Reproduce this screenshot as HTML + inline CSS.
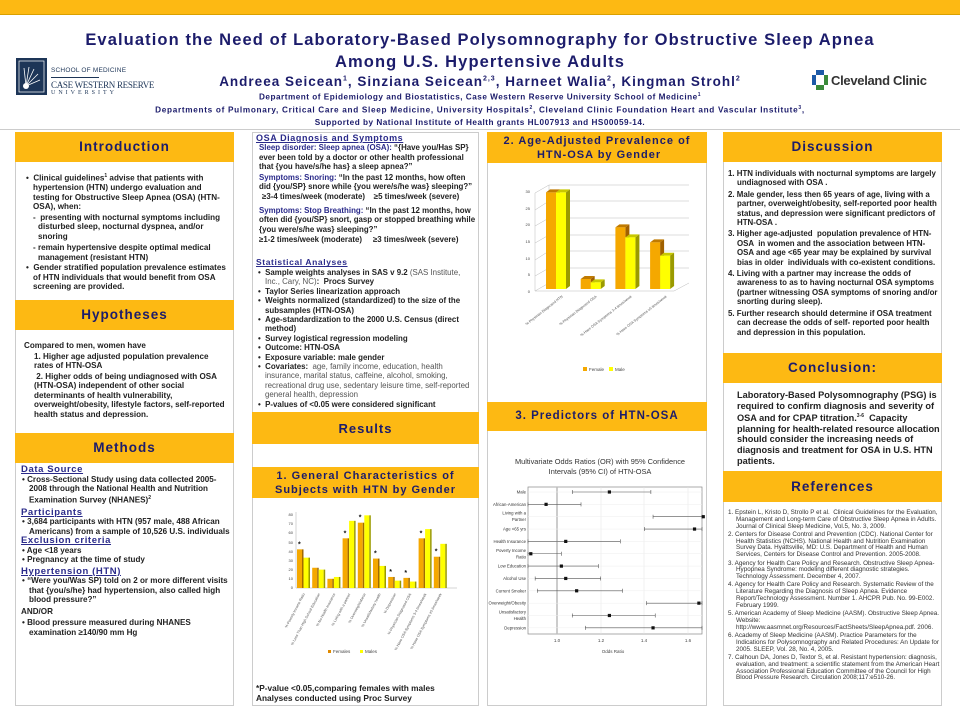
<!DOCTYPE html>
<html><head><meta charset="utf-8"><style>
*{margin:0;padding:0;box-sizing:border-box}
body{width:960px;height:720px;position:relative;background:#fff;font-family:"Liberation Sans",Arial,sans-serif;overflow:hidden;color:#222}
.abs{position:absolute}
.bar{background:#FDB913}
.hd{position:absolute;background:#FDB913;color:#1c1c6b;font-weight:bold;text-align:center;letter-spacing:1px}
.box{position:absolute;border:1px solid #ccc;background:#fff}
.t{position:absolute;font-size:8.1px;font-weight:bold;line-height:9.5px;color:#222}
.t p{margin:0}
.sh{color:#2a2a8a;text-decoration:underline;font-weight:bold;font-size:9.5px;letter-spacing:.6px}
.bl{padding-left:9px;text-indent:-7px}
.nv{color:#2a2a8a}
.ctr{text-align:center;color:#1c1c6b;font-weight:bold;position:absolute;left:0;width:960px}
</style></head><body>
<div class="abs bar" style="left:0;top:0;width:960px;height:15px;border-bottom:1px solid #d9a000"></div>
<div class="ctr" style="top:29px;font-size:16.5px;letter-spacing:1.1px;line-height:22px">Evaluation the Need of Laboratory-Based Polysomnography for Obstructive Sleep Apnea<br>Among U.S. Hypertensive Adults</div>
<div class="ctr" style="top:74px;font-size:13.5px;letter-spacing:1px">Andreea Seicean<sup style="font-size:7px">1</sup>, Sinziana Seicean<sup style="font-size:7px">2,3</sup>, Harneet Walia<sup style="font-size:7px">2</sup>, Kingman Strohl<sup style="font-size:7px">2</sup></div>
<div class="ctr" style="top:92px;font-size:8.2px;letter-spacing:.5px">Department of Epidemiology and Biostatistics, Case Western Reserve University School of Medicine<sup style="font-size:5px">1</sup></div>
<div class="ctr" style="top:105px;font-size:8.2px;letter-spacing:.7px">Departments of Pulmonary, Critical Care and Sleep Medicine, University Hospitals<sup style="font-size:5px">2</sup>, Cleveland Clinic Foundation Heart and Vascular Institute<sup style="font-size:5px">3</sup>,</div>
<div class="ctr" style="top:118px;font-size:8.2px;letter-spacing:.5px">Supported by National Institute of Health grants HL007913 and HS00059-14.</div>
<div class="abs" style="left:0;top:129px;width:960px;height:1px;background:#ccc"></div>
<!-- CWRU logo -->
<div class="abs" style="left:16px;top:58px;width:31px;height:37px;background:#1d3557"><svg width="31" height="37"><rect x="3" y="3" width="25" height="31" fill="none" stroke="#fff" stroke-width=".7"/><g stroke="#fff" stroke-width=".8"><line x1="10" y1="28" x2="8" y2="10"/><line x1="10" y1="28" x2="13" y2="9"/><line x1="10" y1="28" x2="18" y2="11"/><line x1="10" y1="28" x2="22" y2="16"/><line x1="10" y1="28" x2="24" y2="22"/></g><circle cx="10" cy="28" r="3" fill="#fff"/></svg></div>
<div class="abs" style="left:51px;top:67px;font-size:6.5px;color:#1d3557;letter-spacing:.2px">SCHOOL OF MEDICINE</div>
<div class="abs" style="left:51px;top:77px;width:48px;height:1px;background:#1d3557"></div>
<div class="abs" style="left:51px;top:80px;font-family:'Liberation Serif',serif;font-size:9px;color:#1d3557;letter-spacing:-.3px">CASE WESTERN RESERVE</div>
<div class="abs" style="left:51px;top:90px;font-family:'Liberation Serif',serif;font-size:6px;color:#1d3557;letter-spacing:3px">UNIVERSITY</div>
<!-- Cleveland Clinic -->
<div class="abs" style="left:812px;top:70px"><svg width="16" height="20"><rect x="4" y="0" width="8" height="5" fill="#1d5aa8"/><rect x="0" y="5" width="4" height="10" fill="#1d5aa8"/><rect x="12" y="5" width="4" height="10" fill="#3a8a3a"/><rect x="4" y="15" width="8" height="5" fill="#3a8a3a"/></svg></div>
<div class="abs" style="left:831px;top:73px;font-size:13px;font-weight:bold;color:#333;letter-spacing:-.3px">Cleveland Clinic</div>

<!-- Column 1 -->
<div class="box" style="left:15px;top:132px;width:219px;height:574px"></div>
<div class="hd" style="left:15px;top:132px;width:219px;height:30px;font-size:13.5px;line-height:30px">Introduction</div>
<div class="t" style="left:24px;top:172px;width:206px">
<p class="bl">•&nbsp;&nbsp;Clinical guidelines<sup style="font-size:5px">1</sup> advise that patients with hypertension (HTN) undergo evaluation and testing for Obstructive Sleep Apnea (OSA) (HTN-OSA), when:</p>
<p style="padding-left:14px;text-indent:-5px;margin-top:1px">- &nbsp;presenting with nocturnal symptoms including disturbed sleep, nocturnal dyspnea, and/or snoring</p>
<p style="padding-left:14px;text-indent:-5px;margin-top:2px">- remain hypertensive despite optimal medical management (resistant HTN)</p>
<p class="bl" style="margin-top:1px">• &nbsp;Gender stratified population prevalence estimates of HTN individuals that would benefit from OSA screening are provided.</p>
</div>
<div class="hd" style="left:15px;top:300px;width:219px;height:30px;font-size:13.5px;line-height:30px">Hypotheses</div>
<div class="t" style="left:24px;top:341px;width:206px">
<p>Compared to men, women have</p>
<p style="padding-left:10px;margin-top:1px">1. Higher age adjusted population prevalence rates of HTN-OSA</p>
<p style="padding-left:10px;margin-top:1px">&nbsp;2. Higher odds of being undiagnosed with OSA (HTN-OSA) independent of other social determinants of health vulnerability, overweight/obesity, lifestyle factors, self-reported health status and depression.</p>
</div>
<div class="hd" style="left:15px;top:433px;width:219px;height:30px;font-size:13.5px;line-height:30px">Methods</div>
<div class="t" style="left:21px;top:465px;width:211px">
<div class="sh">Data Source</div>
<p class="bl" style="padding-left:8px">• Cross-Sectional Study using data collected 2005-2008 through the National Health and Nutrition Examination Survey (NHANES)<sup style="font-size:5px">2</sup></p>
<div class="sh" style="margin-top:3px">Participants</div>
<p class="bl" style="padding-left:8px">• 3,684 participants with HTN (957 male, 488 African Americans) from a sample of 10,526 U.S. individuals</p>
<div class="sh">Exclusion criteria</div>
<p class="bl" style="padding-left:8px">• Age &lt;18 years</p>
<p class="bl" style="padding-left:8px">• Pregnancy at the time of study</p>
<div class="sh" style="margin-top:2px">Hypertension (HTN)</div>
<p class="bl" style="padding-left:8px">• “Were you/Was SP) told on 2 or more different visits that {you/s/he} had hypertension, also called high blood pressure?”</p>
<p style="margin-top:2px">AND/OR</p>
<p class="bl" style="padding-left:8px;margin-top:2px">• Blood pressure measured during NHANES examination ≥140/90 mm Hg</p>
</div>

<!-- Column 2 -->
<div class="box" style="left:252px;top:132px;width:227px;height:574px"></div>
<div class="t" style="left:256px;top:134px;width:220px;line-height:9.4px;font-size:7.9px">
<div class="sh" style="font-size:9px">OSA Diagnosis and Symptoms</div>
<p style="padding-left:3px"><span class="nv">Sleep disorder: Sleep apnea (OSA):</span> “{Have you/Has SP} ever been told by a doctor or other health professional that {you have/s/he has} a sleep apnea?”</p>
<p style="padding-left:3px;margin-top:1px"><span class="nv">Symptoms: Snoring:</span> “In the past 12 months, how often did {you/SP} snore while {you were/s/he was} sleeping?”</p>
<p style="padding-left:6px;margin-top:1px">≥3-4 times/week (moderate) &nbsp;&nbsp;&nbsp;≥5 times/week (severe)</p>
<p style="padding-left:3px;margin-top:4px"><span class="nv">Symptoms: Stop Breathing:</span> “In the past 12 months, how often did {you/SP} snort, gasp or stopped breathing while {you were/s/he was} sleeping?”</p>
<p style="padding-left:3px;margin-top:1px">≥1-2 times/week (moderate) &nbsp;&nbsp;&nbsp;&nbsp;≥3 times/week (severe)</p>
<div class="sh" style="font-size:8.5px;margin-top:14px">Statistical Analyses</div>
<p class="bl">• &nbsp;Sample weights analyses in SAS v 9.2 <span style="font-weight:normal;color:#555">(SAS Institute, Inc., Cary, NC)</span>: &nbsp;Procs Survey</p>
<p class="bl">• &nbsp;Taylor Series linearization approach</p>
<p class="bl">• &nbsp;Weights normalized (standardized) to the size of the subsamples (HTN-OSA)</p>
<p class="bl">• &nbsp;Age-standardization to the 2000 U.S. Census (direct method)</p>
<p class="bl">• &nbsp;Survey logistical regression modeling</p>
<p class="bl">• &nbsp;Outcome: HTN-OSA</p>
<p class="bl">• &nbsp;Exposure variable: male gender</p>
<p class="bl">• &nbsp;Covariates: <span style="font-weight:normal;color:#555">&nbsp;age, family income, education, health insurance, marital status, caffeine, alcohol, smoking, recreational drug use, sedentary leisure time, self-reported general health, depression</span></p>
<p class="bl">• &nbsp;P-values of &lt;0.05 were considered significant</p>
</div>
<div class="abs bar" style="left:252px;top:412px;width:227px;height:2px"></div>
<div class="hd" style="left:252px;top:414px;width:227px;height:30px;font-size:13px;line-height:30px">Results</div>
<div class="hd" style="left:252px;top:467px;width:227px;height:31px;font-size:11px;line-height:14px;padding-top:2px">1. General Characteristics of<br>Subjects with HTN by Gender</div>
<svg class="abs" style="left:252px;top:498px" width="227" height="185">
<g font-family="Liberation Sans" font-size="4" fill="#444">
<text x="41" y="18" text-anchor="end">80</text><text x="41" y="27" text-anchor="end">70</text><text x="41" y="36" text-anchor="end">60</text><text x="41" y="46" text-anchor="end">50</text><text x="41" y="55" text-anchor="end">40</text><text x="41" y="64" text-anchor="end">30</text><text x="41" y="73" text-anchor="end">20</text><text x="41" y="82" text-anchor="end">10</text><text x="41" y="91" text-anchor="end">0</text>
</g>
<line x1="44" y1="14" x2="44" y2="90" stroke="#aaa" stroke-width=".5"/>
<line x1="44" y1="90" x2="205" y2="90" stroke="#aaa" stroke-width=".5"/>
<g id="bars1"></g>
<g font-family="Liberation Sans" font-size="3.6" fill="#555" id="labs1"></g>
<rect x="76" y="152" width="3" height="3" fill="#e08a00"/><text x="81" y="155" font-family="Liberation Sans" font-size="4.5" fill="#444">Females</text>
<rect x="108" y="152" width="3" height="3" fill="#ffff00"/><text x="113" y="155" font-family="Liberation Sans" font-size="4.5" fill="#444">Males</text>
</svg>
<div class="t" style="left:256px;top:683px;font-size:8.3px;line-height:10px">*P-value &lt;0.05,comparing females with males<br>Analyses conducted using Proc Survey</div>

<!-- Column 3 -->
<div class="box" style="left:487px;top:132px;width:220px;height:574px"></div>
<div class="hd" style="left:487px;top:132px;width:220px;height:31px;font-size:11px;line-height:14px;padding-top:2px">2. Age-Adjusted Prevalence of<br>&nbsp;HTN-OSA by Gender</div>
<svg class="abs" style="left:487px;top:163px" width="220" height="240">
<g font-family="Liberation Sans" font-size="4" fill="#444">
<text x="43" y="30" text-anchor="end">30</text><text x="43" y="47" text-anchor="end">25</text><text x="43" y="63" text-anchor="end">20</text><text x="43" y="80" text-anchor="end">15</text><text x="43" y="97" text-anchor="end">10</text><text x="43" y="113" text-anchor="end">5</text><text x="43" y="130" text-anchor="end">0</text>
</g>
<g stroke="#bbb" stroke-width=".5" fill="none">
<polyline points="48,128 62,120 62,22 202,22"/>
<line x1="48" y1="30" x2="48" y2="128"/>
<line x1="48" y1="128" x2="187" y2="128"/>
<line x1="187" y1="128" x2="202" y2="120"/>
<line x1="62" y1="38" x2="202" y2="38"/><line x1="62" y1="55" x2="202" y2="55"/><line x1="62" y1="72" x2="202" y2="72"/><line x1="62" y1="88" x2="202" y2="88"/><line x1="62" y1="105" x2="202" y2="105"/>
<line x1="48" y1="30" x2="62" y2="22"/><line x1="48" y1="47" x2="62" y2="38"/><line x1="48" y1="63" x2="62" y2="55"/><line x1="48" y1="80" x2="62" y2="72"/><line x1="48" y1="97" x2="62" y2="88"/><line x1="48" y1="113" x2="62" y2="105"/>
</g>
<g id="bars2"></g>
<g font-family="Liberation Sans" font-size="3.6" fill="#555">
<text transform="translate(76,134) rotate(-38)" text-anchor="end">% Physician Diagnosed HTN</text>
<text transform="translate(110,134) rotate(-38)" text-anchor="end">% Physician Diagnosed OSA</text>
<text transform="translate(145,134) rotate(-38)" text-anchor="end">% Have OSA Symptoms 3-4 times/week</text>
<text transform="translate(180,134) rotate(-38)" text-anchor="end">% Have OSA Symptoms ≥5 times/week</text>
</g>
<rect x="96" y="204" width="4" height="4" fill="#f5a800"/><text x="102" y="208" font-family="Liberation Sans" font-size="4.5" fill="#444">Female</text>
<rect x="122" y="204" width="4" height="4" fill="#ffff00"/><text x="128" y="208" font-family="Liberation Sans" font-size="4.5" fill="#444">Male</text>
</svg>
<div class="hd" style="left:487px;top:402px;width:220px;height:29px;font-size:11.5px;line-height:29px">3. Predictors of HTN-OSA</div>
<svg class="abs" style="left:487px;top:431px" width="220" height="260">
<text x="113" y="33" text-anchor="middle" font-family="Liberation Sans" font-size="7.4" fill="#333">Multivariate Odds Ratios (OR) with 95% Confidence</text>
<text x="113" y="43" text-anchor="middle" font-family="Liberation Sans" font-size="7.4" fill="#333">Intervals (95% CI) of HTN-OSA</text>
<rect x="41" y="56" width="174" height="147" fill="#fff" stroke="#888" stroke-width=".7"/>
<g stroke="#e4e4e4" stroke-width=".5"><line x1="114" y1="56" x2="114" y2="203"/><line x1="157" y1="56" x2="157" y2="203"/><line x1="201" y1="56" x2="201" y2="203"/></g>
<line x1="70" y1="56" x2="70" y2="203" stroke="#bbb" stroke-width="1.5"/>
<g id="forest" font-family="Liberation Sans" font-size="4.3" fill="#333"></g>
<g font-family="Liberation Sans" font-size="4.5" fill="#444" text-anchor="middle">
<text x="70" y="211">1.0</text><text x="114" y="211">1.2</text><text x="157" y="211">1.4</text><text x="201" y="211">1.6</text>
<text x="126" y="222">Odds Ratio</text></g>
</svg>

<!-- Column 4 -->
<div class="box" style="left:723px;top:132px;width:219px;height:574px"></div>
<div class="hd" style="left:723px;top:132px;width:219px;height:30px;font-size:13.5px;line-height:30px">Discussion</div>
<div class="t" style="left:728px;top:169px;width:212px;line-height:9.4px;font-size:7.9px">
<p style="padding-left:9px;text-indent:-9px">1. HTN individuals with nocturnal symptoms are largely undiagnosed with OSA .</p>
<p style="padding-left:9px;text-indent:-9px;margin-top:2px">2. Male gender, less then 65 years of age, living with a partner, overweight/obesity, self-reported poor health status, and depression were significant predictors of HTN-OSA .</p>
<p style="padding-left:9px;text-indent:-9px;margin-top:2px">3. Higher age-adjusted &nbsp;population prevalence of HTN-OSA &nbsp;in women and the association between HTN-OSA and age &lt;65 year may be explained by survival bias in older &nbsp;individuals with co-existent conditions.</p>
<p style="padding-left:9px;text-indent:-9px;margin-top:2px">4. Living with a partner may increase the odds of awareness to as to having nocturnal OSA symptoms (partner witnessing OSA symptoms of snoring and/or snorting during sleep).</p>
<p style="padding-left:9px;text-indent:-9px;margin-top:2px">5. Further research should determine if OSA treatment can decrease the odds of self- reported poor health and depression in this population.</p>
</div>
<div class="hd" style="left:723px;top:353px;width:219px;height:30px;font-size:13.5px;line-height:30px">Conclusion:</div>
<div class="t" style="left:737px;top:390px;width:204px;font-size:9.2px;line-height:10.6px">Laboratory-Based Polysomnography (PSG) is required to confirm diagnosis and severity of OSA and for CPAP titration.<sup style="font-size:5px">3-6</sup> &nbsp;Capacity planning for health-related resource allocation should consider the increasing needs of diagnosis and treatment for OSA in U.S. HTN patients.</div>
<div class="hd" style="left:723px;top:471px;width:219px;height:31px;font-size:13.5px;line-height:31px">References</div>
<div class="abs" style="left:728px;top:510px;width:212px;font-size:6.3px;line-height:6.8px;color:#333">
<p style="padding-left:8px;text-indent:-8px">1. Epstein L, Kristo D, Strollo P et al. &nbsp;Clinical Guidelines for the Evaluation, Management and Long-term Care of Obstructive Sleep Apnea in Adults. Journal of Clinical Sleep Medicine, Vol.5, No. 3, 2009.</p>
<p style="padding-left:8px;text-indent:-8px;margin-top:1.5px">2. Centers for Disease Control and Prevention (CDC). National Center for Health Statistics (NCHS). National Health and Nutrition Examination Survey Data. Hyattsville, MD: U.S. Department of Health and Human Services, Centers for Disease Control and Prevention. 2005-2008.</p>
<p style="padding-left:8px;text-indent:-8px;margin-top:1.5px">3. Agency for Health Care Policy and Research. Obstructive Sleep Apnea-Hypopnea Syndrome: modeling different diagnostic strategies. Technology Assessment. December 4, 2007.</p>
<p style="padding-left:8px;text-indent:-8px;margin-top:1.5px">4. Agency for Health Care Policy and Research. Systematic Review of the Literature Regarding the Diagnosis of Sleep Apnea. Evidence Report/Technology Assessment. Number 1. AHCPR Pub. No. 99-E002. February 1999.</p>
<p style="padding-left:8px;text-indent:-8px;margin-top:1.5px">5. American Academy of Sleep Medicine (AASM). Obstructive Sleep Apnea. Website: http://www.aasmnet.org/Resources/FactSheets/SleepApnea.pdf. 2006.</p>
<p style="padding-left:8px;text-indent:-8px;margin-top:1.5px">6. Academy of Sleep Medicine (AASM). Practice Parameters for the Indications for Polysomnography and Related Procedures: An Update for 2005. SLEEP, Vol. 28, No. 4, 2005.</p>
<p style="padding-left:8px;text-indent:-8px;margin-top:1.5px">7. Calhoun DA, Jones D, Textor S, et al. Resistant hypertension: diagnosis, evaluation, and treatment: a scientific statement from the American Heart Association Professional Education Committee of the Council for High Blood Pressure Research. Circulation 2008;117:e510-26.</p>
</div>

<script>
var NS="http://www.w3.org/2000/svg";
function el(p,t,a,txt){var e=document.createElementNS(NS,t);for(var k in a)e.setAttribute(k,a[k]);if(txt)e.textContent=txt;p.appendChild(e);return e;}
var g1=document.getElementById('bars1'),l1=document.getElementById('labs1');
var d1=[[42,33,1],[22,20,0],[10,12,0],[54,73,1],[71,79,1],[32,24,1],[12,8,1],[11,7,1],[54,64,1],[34,48,1]];
var n1=["% Poverty Income Ratio","% Less Than High School Education","% No Health Insurance","% Living with a partner","% Overweight/obese","% Unsatisfactory health","% Depression","% Physician Diagnosed OSA","% Have OSA Symptoms 3-4 times/week","% Have OSA Symptoms ≥5 times/week"];
d1.forEach(function(d,i){var x=45+i*15.2,s=0.92;
 var hf=d[0]*s,hm=d[1]*s;
 el(g1,'rect',{x:x,y:90-hf,width:5,height:hf,fill:'#f5a800'});
 el(g1,'rect',{x:x+5,y:90-hf,width:1.5,height:hf,fill:'#a06a00'});
 el(g1,'rect',{x:x+6.5,y:90-hm,width:5,height:hm,fill:'#ffff00'});
 el(g1,'rect',{x:x+11.5,y:90-hm,width:1.5,height:hm,fill:'#9a9a00'});
 if(d[2])el(g1,'text',{x:x+1,y:90-hf-3,'font-size':'7','font-family':'Liberation Sans','font-weight':'bold',fill:'#111'},'*');
 el(l1,'text',{transform:'translate('+(x+8)+',96) rotate(-62)','text-anchor':'end'},n1[i]);
});
var g2=document.getElementById('bars2');
var d2=[[29,29],[3,2],[18.5,15.5],[14,10]];
d2.forEach(function(d,i){var x=59+i*34.7,s=3.33,b=126;
 [[d[0],x,'#f5a800','#c07a00','#a06000'],[d[1],x+10,'#ffff00','#c8c800','#9a9a00']].forEach(function(q){
  var h=q[0]*s,xx=q[1];
  el(g2,'polygon',{points:(xx)+','+(b-h)+' '+(xx+4)+','+(b-h-3)+' '+(xx+14)+','+(b-h-3)+' '+(xx+10)+','+(b-h),fill:q[3]});
  el(g2,'polygon',{points:(xx+10)+','+(b-h)+' '+(xx+14)+','+(b-h-3)+' '+(xx+14)+','+(b-3)+' '+(xx+10)+','+b,fill:q[4]});
  el(g2,'rect',{x:xx,y:b-h,width:10,height:h,fill:q[2]});
 });
});
var gf=document.getElementById('forest');
var fd=[["Male",1.24,1.07,1.43],["African-American",0.95,0.867,1.11],["Living with a|Partner",1.67,1.44,1.68],["Age <65 yrs",1.63,1.40,1.68],["Health Insurance",1.04,0.867,1.29],["Poverty Income|Ratio",0.88,0.867,1.02],["Low Education",1.02,0.867,1.19],["Alcohol Use",1.04,0.90,1.20],["Current Smoker",1.09,0.91,1.30],["Overweight/Obesity",1.65,1.41,1.68],["Unsatisfactory|Health",1.24,1.07,1.45],["Depression",1.44,1.13,1.68]];
function X(v){return 70+(v-1)*218.3;}
fd.forEach(function(r,i){var y=61+i*12.35;
 el(gf,'line',{x1:41,y1:y,x2:215,y2:y,stroke:'#eee','stroke-width':.5});
 el(gf,'line',{x1:X(r[2]),y1:y,x2:Math.min(X(r[3]),215),y2:y,stroke:'#555','stroke-width':.6});
 el(gf,'line',{x1:X(r[2]),y1:y-2,x2:X(r[2]),y2:y+2,stroke:'#555','stroke-width':.6});
 el(gf,'line',{x1:Math.min(X(r[3]),215),y1:y-2,x2:Math.min(X(r[3]),215),y2:y+2,stroke:'#555','stroke-width':.6});
 el(gf,'rect',{x:X(r[1])-1.6,y:y-1.6,width:3.2,height:3.2,fill:'#111'});
 var p=r[0].split('|');
 if(p.length==1)el(gf,'text',{x:39,y:y+1.5,'text-anchor':'end'},p[0]);
 else{el(gf,'text',{x:39,y:y-2,'text-anchor':'end'},p[0]);el(gf,'text',{x:39,y:y+4.5,'text-anchor':'end'},p[1]);}
});
</script>
</body></html>
